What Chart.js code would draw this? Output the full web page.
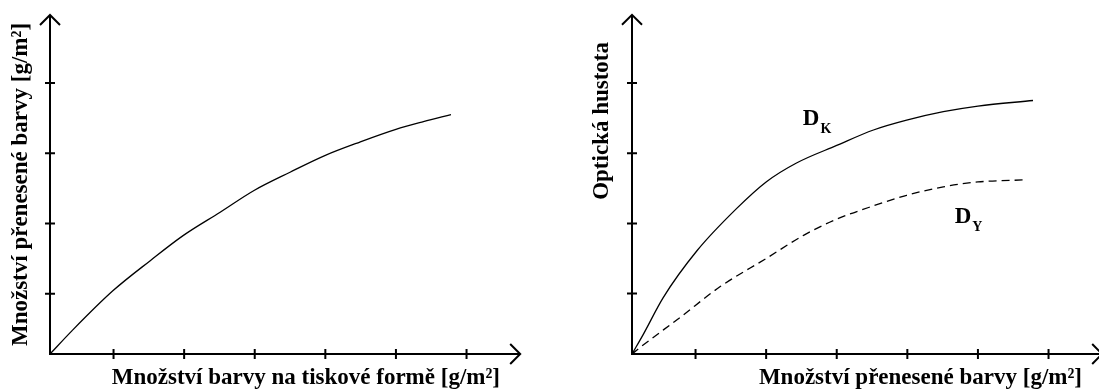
<!DOCTYPE html>
<html>
<head>
<meta charset="utf-8">
<script src="https://cdn.jsdelivr.net/npm/chart.js@4/dist/chart.umd.min.js"></script>
<style>
  html, body { margin: 0; padding: 0; background: #fff; }
  body { width: 1099px; height: 390px; position: relative; overflow: hidden; }
  canvas { position: absolute; top: 0; }
  #left { left: 0; }
  #right { left: 560px; }
</style>
</head>
<body>
<canvas id="left" width="549" height="390"></canvas>
<canvas id="right" width="539" height="390"></canvas>
<script>
// tick marks (no tick labels in the figure)
const xTicks = [0.9, 1.9, 2.9, 3.9, 4.9, 5.9];
const yTicks = [0.86, 1.86, 2.86, 3.86];

// left: transferred ink vs ink on the plate
const plateInk = [0, 0.31, 0.89, 1.42, 1.89, 2.41, 2.89, 3.4, 3.9, 4.39, 4.9, 5.29, 5.68];
const transferred = [0, 0.33, 0.9, 1.33, 1.69, 2.02, 2.33, 2.59, 2.83, 3.02, 3.2, 3.31, 3.41];

// right: optical density vs transferred ink
const dkX = [0, 0.16, 0.44, 0.92, 1.48, 1.9, 2.33, 2.9, 3.42, 3.89, 4.41, 4.9, 5.68];
const dkY = [0, 0.28, 0.8, 1.47, 2.07, 2.45, 2.72, 2.97, 3.19, 3.33, 3.45, 3.53, 3.61];
const dyX = [0, 0.11, 0.68, 1.25, 1.9, 2.43, 2.9, 3.42, 3.89, 4.41, 4.9, 5.57];
const dyY = [0, 0.09, 0.52, 0.96, 1.36, 1.69, 1.92, 2.11, 2.26, 2.38, 2.45, 2.48];

const curveNames = ['K', 'Y'];
const curveLabelX = [2.42, 4.57];
const curveLabelY = [3.26, 1.86];

const serif = '"Liberation Serif", "Times New Roman", serif';
const titleFont = { family: serif, size: 23, weight: 'bold', lineHeight: 1 };

const toPoints = (xs, ys) => xs.map((x, i) => ({ x: x, y: ys[i] }));

// axes with arrow heads and crossing tick marks, drawn on the chart's own scales
const arrowAxes = {
  id: 'arrowAxes',
  afterDatasetsDraw(chart, args, opts) {
    const ctx = chart.ctx;
    const xs = chart.scales.x, ys = chart.scales.y;
    const x0 = xs.getPixelForValue(0), y0 = ys.getPixelForValue(0);
    const xEnd = xs.getPixelForValue(opts.xArrow);
    const yEnd = ys.getPixelForValue(opts.yArrow);
    ctx.save();
    ctx.strokeStyle = '#000';
    ctx.lineWidth = 2;
    ctx.beginPath();
    ctx.moveTo(x0, yEnd);
    ctx.lineTo(x0, y0);
    ctx.lineTo(xEnd, y0);
    ctx.moveTo(x0 - 10, yEnd + 10);
    ctx.lineTo(x0, yEnd);
    ctx.lineTo(x0 + 10, yEnd + 10);
    ctx.moveTo(xEnd - 10, y0 - 10);
    ctx.lineTo(xEnd, y0);
    ctx.lineTo(xEnd - 10, y0 + 10);
    xTicks.forEach(v => {
      const p = xs.getPixelForValue(v);
      ctx.moveTo(p, y0 - 5);
      ctx.lineTo(p, y0 + 5);
    });
    yTicks.forEach(v => {
      const p = ys.getPixelForValue(v);
      ctx.moveTo(x0 - 5, p);
      ctx.lineTo(x0 + 5, p);
    });
    ctx.stroke();

    if (opts.curveLabels) {
      ctx.fillStyle = '#000';
      ctx.textBaseline = 'alphabetic';
      ctx.textAlign = 'left';
      curveNames.forEach((name, i) => {
        const px = xs.getPixelForValue(curveLabelX[i]);
        const py = ys.getPixelForValue(curveLabelY[i]);
        ctx.font = 'bold 23px ' + serif;
        ctx.fillText('D', px, py);
        const w = ctx.measureText('D').width;
        ctx.font = 'bold 14px ' + serif;
        ctx.fillText(name, px + w + 1, py + 8);
      });
    }
    ctx.restore();
  }
};

function axisOptions(cfg) {
  return {
    x: {
      type: 'linear',
      min: 0,
      max: cfg.xMax,
      grid: { display: false, drawTicks: false },
      border: { display: false },
      ticks: { display: false },
      title: {
        display: true,
        text: cfg.xTitle,
        align: 'end',
        color: '#000',
        font: titleFont,
        padding: { top: cfg.xTitleGap, bottom: 0 }
      }
    },
    y: {
      type: 'linear',
      min: 0,
      max: cfg.yMax,
      grid: { display: false, drawTicks: false },
      border: { display: false },
      ticks: { display: false },
      title: {
        display: true,
        text: cfg.yTitle,
        align: cfg.yAlign,
        color: '#000',
        font: titleFont,
        padding: { top: 0, bottom: cfg.yTitleGap }
      }
    }
  };
}

new Chart(document.getElementById('left'), {
  type: 'scatter',
  data: {
    datasets: [{
      data: toPoints(plateInk, transferred),
      showLine: true,
      borderColor: '#000',
      borderWidth: 1.3,
      pointRadius: 0,
      cubicInterpolationMode: 'monotone'
    }]
  },
  options: {
    responsive: false,
    animation: false,
    layout: { padding: { left: 10, top: 15, right: 49, bottom: 0 } },
    plugins: {
      legend: { display: false },
      tooltip: { enabled: false },
      arrowAxes: { xArrow: 6.66, yArrow: 4.83 }
    },
    scales: axisOptions({
      xMax: 6.374, yMax: 4.83,
      xTitle: 'Množství barvy na tiskové formě [g/m²]',
      yTitle: 'Množství přenesené barvy [g/m²]',
      yAlign: 'center', xTitleGap: 13, yTitleGap: 17
    })
  },
  plugins: [arrowAxes]
});

new Chart(document.getElementById('right'), {
  type: 'scatter',
  data: {
    datasets: [{
      data: toPoints(dkX, dkY),
      showLine: true,
      borderColor: '#000',
      borderWidth: 1.3,
      pointRadius: 0,
      cubicInterpolationMode: 'monotone'
    }, {
      data: toPoints(dyX, dyY),
      showLine: true,
      borderColor: '#000',
      borderWidth: 1.3,
      borderDash: [8, 5],
      pointRadius: 0,
      cubicInterpolationMode: 'monotone'
    }]
  },
  options: {
    responsive: false,
    animation: false,
    layout: { padding: { left: 31, top: 42, right: 17, bottom: 0 } },
    plugins: {
      legend: { display: false },
      tooltip: { enabled: false },
      arrowAxes: { xArrow: 6.66, yArrow: 4.83, curveLabels: true }
    },
    scales: axisOptions({
      xMax: 6.374, yMax: 4.443,
      xTitle: 'Množství přenesené barvy [g/m²]',
      yTitle: 'Optická hustota',
      yAlign: 'end', xTitleGap: 13, yTitleGap: 18
    })
  },
  plugins: [arrowAxes]
});
</script>
</body>
</html>
